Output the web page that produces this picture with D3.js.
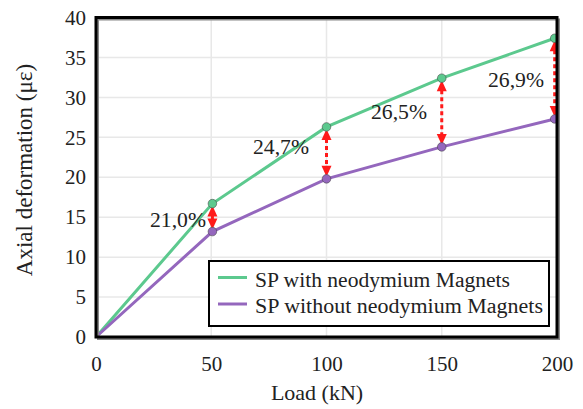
<!DOCTYPE html>
<html><head><meta charset="utf-8">
<script src="https://cdn.jsdelivr.net/npm/d3@7"></script>
<style>body{margin:0;background:#fff}svg{display:block}text{font-family:'Liberation Serif','Times New Roman',Tinos,serif;fill:#222}</style>
</head><body>
<svg id="c" width="583" height="409"></svg>
<script>
const loads = [0, 50.5, 100, 150, 199];
const withMagnets = [0, 16.7, 26.3, 32.4, 37.4];
const withoutMagnets = [0, 13.2, 19.8, 23.8, 27.3];
const pctLabels = ["21,0%", "24,7%", "26,5%", "26,9%"];
const xTicks = [0, 50, 100, 150, 200];
const yTicks = [0, 5, 10, 15, 20, 25, 30, 35, 40];
const seriesNames = ["SP with neodymium Magnets", "SP without neodymium Magnets"];
const colors = ["#5cc98e", "#9467bd"];
const FF = "'Liberation Serif','Times New Roman',Tinos,serif";

const svg = d3.select("#c");
const m = {l: 96, r: 557, t: 17.5, b: 337};
const x = d3.scaleLinear().domain([0, 200]).range([m.l, m.r]);
const y = d3.scaleLinear().domain([0, 40]).range([m.b, m.t]);

// grid
svg.append("g").selectAll("line").data(yTicks.slice(1, -1)).join("line")
  .attr("x1", m.l).attr("x2", m.r).attr("y1", d => y(d)).attr("y2", d => y(d))
  .attr("stroke", "#e8e8e8").attr("stroke-width", 1.5);
svg.append("g").selectAll("line").data(xTicks.slice(1, -1)).join("line")
  .attr("y1", m.t).attr("y2", m.b).attr("x1", d => x(d)).attr("x2", d => x(d))
  .attr("stroke", "#e8e8e8").attr("stroke-width", 1.5);

// axes labels via d3 axes
const xa = svg.append("g").attr("transform", `translate(0,${m.b})`)
  .call(d3.axisBottom(x).tickValues(xTicks).tickSize(0).tickPadding(19));
const ya = svg.append("g").attr("transform", `translate(${m.l},0)`)
  .call(d3.axisLeft(y).tickValues(yTicks).tickSize(0).tickPadding(10));
[xa, ya].forEach(a => {
  a.select(".domain").remove();
  a.attr("font-family", null).attr("font-size", null);
  a.selectAll("text").style("font-size", "21px").style("fill", "#222").style("font-family", FF);
});

// lines
const line = d3.line().x((d, i) => x(loads[i])).y(d => y(d));
[withMagnets, withoutMagnets].forEach((s, k) => {
  svg.append("path").datum(s).attr("d", line).attr("fill", "none")
    .attr("stroke", colors[k]).attr("stroke-width", 3);
});

// arrows
const red = "#ff1a1a";
loads.slice(1).forEach((L, i) => {
  const j = i + 1, cx = x(L);
  const yt = y(withMagnets[j]) + 2, yb = y(withoutMagnets[j]) - 2;
  svg.append("line").attr("x1", cx).attr("x2", cx)
    .attr("y1", yt + 10).attr("y2", yb - 10)
    .attr("stroke", red).attr("stroke-width", 3).attr("stroke-dasharray", "4,3");
  svg.append("path").attr("d", `M${cx},${yt} L${cx - 5},${yt + 11} L${cx + 5},${yt + 11} Z`).attr("fill", red);
  svg.append("path").attr("d", `M${cx},${yb} L${cx - 5},${yb - 11} L${cx + 5},${yb - 11} Z`).attr("fill", red);
});

// markers
[withMagnets, withoutMagnets].forEach((s, k) => {
  svg.append("g").selectAll("circle").data(s.slice(1)).join("circle")
    .attr("cx", (d, i) => x(loads[i + 1])).attr("cy", d => y(d)).attr("r", 4.3)
    .attr("fill", colors[k]).attr("stroke", "#444").attr("stroke-width", 0.8).attr("stroke-opacity", 0.7);
});

// percentage labels
const labPos = [[150, 227], [253, 154], [371, 119], [488, 87]];
pctLabels.forEach((t, i) => {
  svg.append("text").attr("x", labPos[i][0]).attr("y", labPos[i][1]).style("font-size", "22px")
    .attr("textLength", 56).attr("lengthAdjust", "spacingAndGlyphs").text(t);
});

// frame
svg.append("rect").attr("x", m.l + 2).attr("y", m.t + 2).attr("width", m.r - m.l).attr("height", m.b - m.t)
  .attr("fill", "none").attr("stroke", "#888").attr("stroke-width", 2);
svg.append("rect").attr("x", m.l).attr("y", m.t).attr("width", m.r - m.l).attr("height", m.b - m.t)
  .attr("fill", "none").attr("stroke", "#000").attr("stroke-width", 3);

// legend
const lg = svg.append("g");
lg.append("rect").attr("x", 209).attr("y", 261).attr("width", 340).attr("height", 65)
  .attr("fill", "#fff").attr("stroke", "#000").attr("stroke-width", 2);
const legLen = [255, 288];
seriesNames.forEach((n, i) => {
  const yy = 277.5 + i * 26.5;
  lg.append("line").attr("x1", 218).attr("x2", 247).attr("y1", yy).attr("y2", yy)
    .attr("stroke", colors[i]).attr("stroke-width", 3);
  lg.append("text").attr("x", 255).attr("y", yy + 9).style("font-size", "20px")
    .attr("textLength", legLen[i]).attr("lengthAdjust", "spacingAndGlyphs").text(n);
});

// axis titles
svg.append("text").attr("x", 317).attr("y", 400).attr("text-anchor", "middle")
  .style("font-size", "22px").text("Load (kN)");
svg.append("text").attr("transform", "translate(32,170) rotate(-90)").attr("text-anchor", "middle")
  .style("font-size", "23px").text("Axial deformation  (με)");
</script>
</body></html>
